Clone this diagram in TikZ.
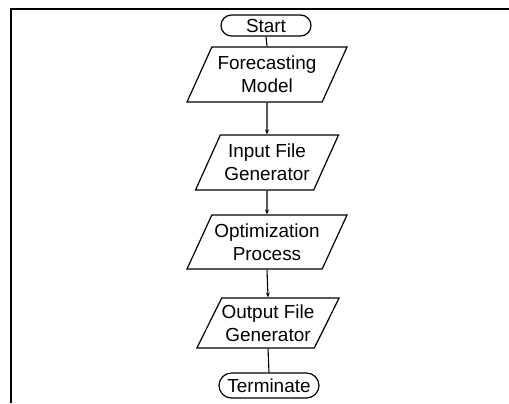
\documentclass[tikz,border=0pt]{standalone}
\usepackage{fontspec}
\setmainfont{Liberation Sans}
\usetikzlibrary{shapes.geometric,shapes.misc,arrows.meta}

\tikzset{
  termbox/.style={draw, rounded rectangle, line width=1.2bp, inner sep=0pt,
    font=\fontsize{19}{22}\selectfont},
  iobox/.style={draw, trapezium, trapezium left angle=56, trapezium right angle=124,
    trapezium stretches body, line width=1.2bp, align=center, inner sep=0pt,
    font=\fontsize{19}{23}\selectfont},
  flow/.style={-{Stealth[length=5bp,width=4bp]}, line width=1.1bp}
}

\begin{document}
\begin{tikzpicture}[x=1bp,y=-1bp]
        \useasboundingbox (0,0) rectangle (509,403);

        % Frame (cut off at right and bottom)
        \draw[line width=1.8bp] (11,403) -- (11,9) -- (509,9);

        % Terminals
        \node[termbox, minimum width=90bp, minimum height=21bp] (start) at (266,25.5) {Start};
        \node[termbox, minimum width=100bp, minimum height=25bp] (term) at (269,385.5) {Terminate};

        % Process steps
        \node[iobox, minimum width=160bp, minimum height=55bp] (fcst) at (267,74.5) {Forecasting\\Model};
        \node[iobox, minimum width=143bp, minimum height=55bp] (inp) at (267,162.5) {Input File\\Generator};
        \node[iobox, minimum width=160bp, minimum height=54bp] (opt) at (267,242) {Optimization\\Process};
        \node[iobox, minimum width=133bp, minimum height=50bp] (outp) at (268,323) {Output File\\Generator};

        % Connectors
        \draw[line width=1.1bp] (start.south) -- (fcst.north);
        \draw[flow] (fcst.south) -- (inp.north);
        \draw[flow] (inp.south) -- (opt.north);
        \draw[flow] (opt.south) -- (outp.north);
        \draw[line width=1.1bp] (outp.south) -- (term.north);
    \end{tikzpicture}
\end{document}
